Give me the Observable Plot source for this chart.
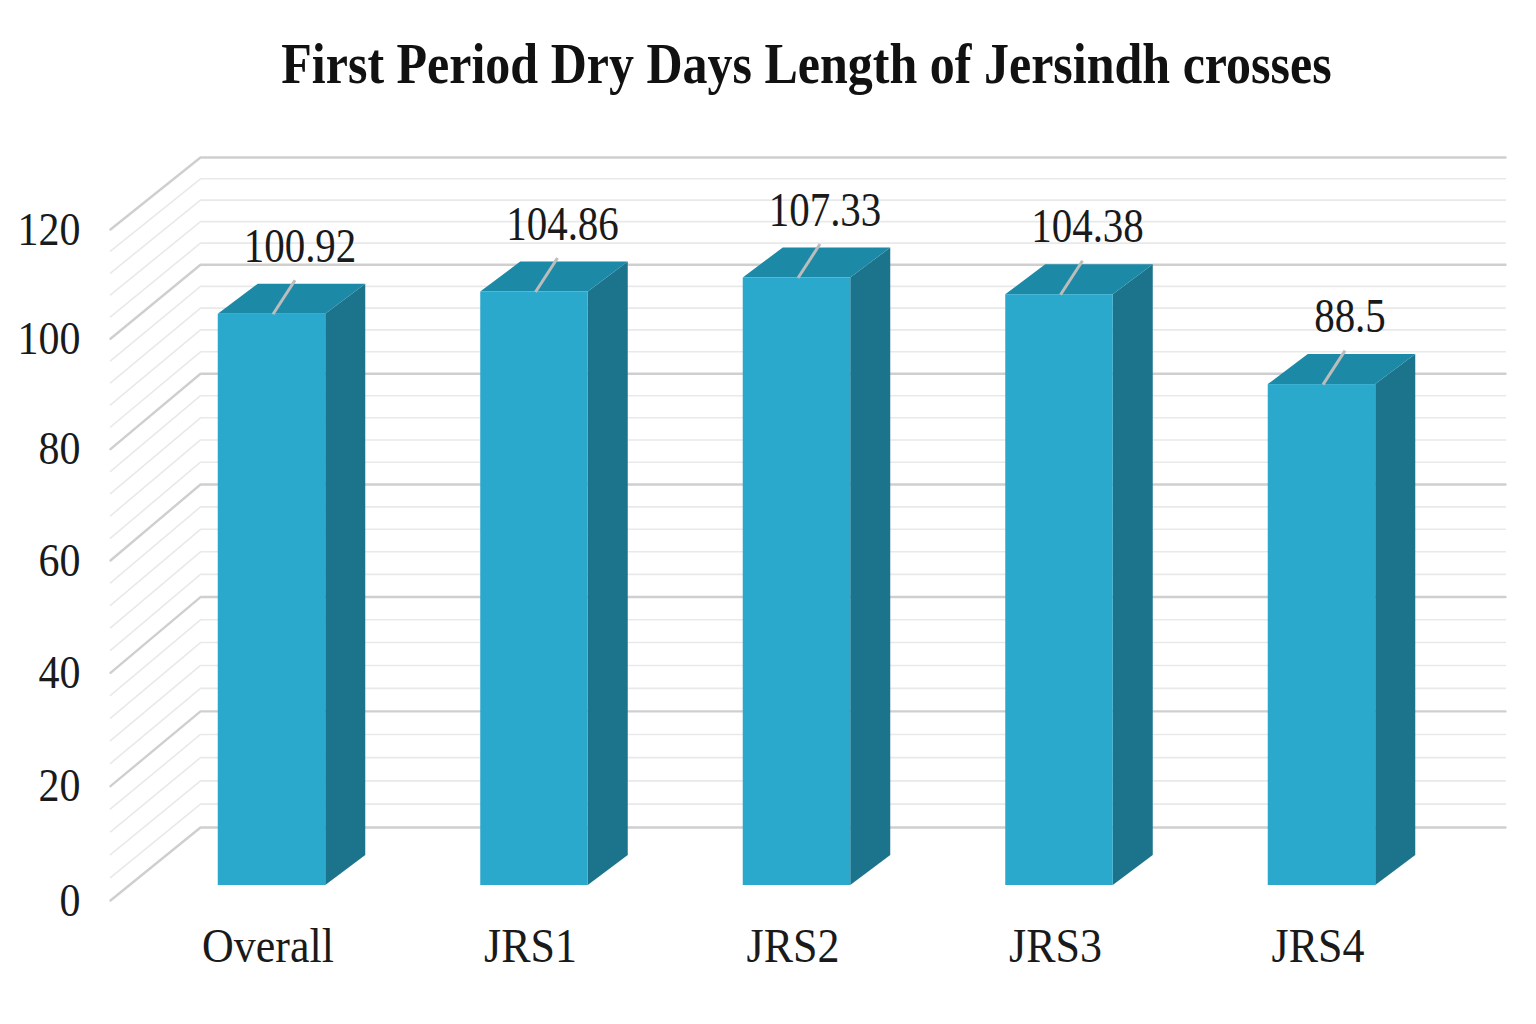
<!DOCTYPE html>
<html>
<head>
<meta charset="utf-8">
<script src="https://cdn.jsdelivr.net/npm/d3@7"></script>
<script src="https://cdn.jsdelivr.net/npm/@observablehq/plot@0.6"></script>
<style>
  html, body { margin: 0; padding: 0; background: #ffffff; }
  #title {
    width: 1536px; height: 110px; box-sizing: border-box;
    padding-top: 41px; padding-left: 77px;
    font-family: "Liberation Serif", "Times New Roman", serif;
    font-weight: bold; font-size: 50px; line-height: 1;
    text-align: center; color: #111111;
    transform: scaleY(1.14); transform-origin: 50% 83px;
  }
  #chart svg { display: block; }
</style>
</head>
<body>
<div id="title">First Period Dry Days Length of Jersindh crosses</div>
<div id="chart"></div>
<script>
// ---- data ----
const categories = ["Overall", "JRS1", "JRS2", "JRS3", "JRS4"];
const values = [100.92, 104.86, 107.33, 104.38, 88.5];
const yTicks = [0, 20, 40, 60, 80, 100, 120];
const minorStep = 4;

// ---- geometry helpers (pixel -> data unit conversions) ----
const W = 1536, H = 914;
const xRange = [271.5, 1321.5];          // centers of first/last bar
const yRange = [775, 95.8];              // value 0 .. 120 on the bars' front plane
const pxX = (categories.length - 1) / (xRange[1] - xRange[0]);
const pxY = 120 / (yRange[0] - yRange[1]);
const hw = 53.75 * pxX;                  // half bar width
const depthX = 40 * pxX, depthY = 30 * pxY;
// slight perspective on the walls
const wallFront = v => (-15 + 5.742 * v - 0.00125 * v * v) * pxY;
const wallBack = v => (58 + 5.85 * v - 0.00222 * v * v) * pxY;
const sideFrontX = (110 - xRange[0]) * pxX;
const backLeftX = (200 - xRange[0]) * pxX;
const backRightX = (1505 - xRange[0]) * pxX;

const bars = categories.map((c, i) => ({cat: c, i, v: values[i]}));

// gridlines
const levels = d3.range(0, 120 + 1e-9, minorStep);
const gridPts = levels.flatMap(v => [
  {lv: v, x: sideFrontX, y: wallFront(v)},
  {lv: v, x: backLeftX, y: wallBack(v)},
  {lv: v, x: backRightX, y: wallBack(v)}
]);
const isMajor = d => yTicks.includes(d.lv);

// faces
const topPts = bars.flatMap(b => [
  {cat: b.cat, y: b.v, x1: b.i - hw, x2: b.i + hw},
  {cat: b.cat, y: b.v + depthY, x1: b.i - hw + depthX, x2: b.i + hw + depthX}
]);
const sidePts = bars.flatMap(b => [
  {cat: b.cat, x: b.i + hw, y1: 0, y2: b.v},
  {cat: b.cat, x: b.i + hw + depthX, y1: depthY, y2: b.v + depthY}
]);

const serif = "Liberation Serif, Times New Roman, serif";

const chart = Plot.plot({
  width: W,
  height: H,
  x: {type: "linear", domain: [0, categories.length - 1], range: xRange, axis: null},
  y: {type: "linear", domain: [0, 120], range: yRange, axis: null},
  style: {fontFamily: serif, background: "#ffffff", overflow: "visible"},
  marks: [
    Plot.line(gridPts.filter(d => !isMajor(d)), {x: "x", y: "y", z: "lv", stroke: "#e9e9e9", strokeWidth: 1.6}),
    Plot.line(gridPts.filter(isMajor), {x: "x", y: "y", z: "lv", stroke: "#cfcfcf", strokeWidth: 2.4}),
    Plot.areaY(sidePts, {x: "x", y1: "y1", y2: "y2", z: "cat", fill: "#1b738c"}),
    Plot.areaX(topPts, {y: "y", x1: "x1", x2: "x2", z: "cat", fill: "#1c8aa6"}),
    Plot.rect(bars, {x1: d => d.i - hw, x2: d => d.i + hw, y1: 0, y2: "v", fill: "#2aa9cc"}),
    Plot.link(bars, {
      x1: d => d.i + 1 * pxX, y1: "v",
      x2: d => d.i + 23 * pxX, y2: d => d.v + 34 * pxY,
      stroke: "#bcbcbc", strokeWidth: 3
    }),
    Plot.text(bars, {
      x: "i", y: "v", text: d => String(d.v), dx: 28, dy: -68,
      fontSize: 41, fill: "#1a1a1a", lineAnchor: "middle", textAnchor: "middle",
      className: "tall-lg"
    }),
    Plot.text(bars, {
      x: "i", y: 0, text: "cat", dy: 61, dx: -4,
      fontSize: 44, fill: "#1a1a1a", lineAnchor: "middle", textAnchor: "middle",
      className: "tall"
    }),
    Plot.text(yTicks, {
      x: (80 - xRange[0]) * pxX, y: v => wallFront(v), text: v => String(v),
      fontSize: 42, fill: "#1a1a1a", lineAnchor: "middle", textAnchor: "end",
      className: "tall"
    })
  ]
});
// stretch the serif labels slightly vertically, as in the reference
for (const [cls, s] of [["tall", 1.12], ["tall-lg", 1.2]]) {
  chart.querySelectorAll(`.${cls} text`).forEach(t => {
    const tr = t.getAttribute("transform");
    if (tr && tr.includes("translate")) t.setAttribute("transform", tr + ` scale(1,${s})`);
  });
}
document.getElementById("chart").appendChild(chart);
</script>
</body>
</html>
